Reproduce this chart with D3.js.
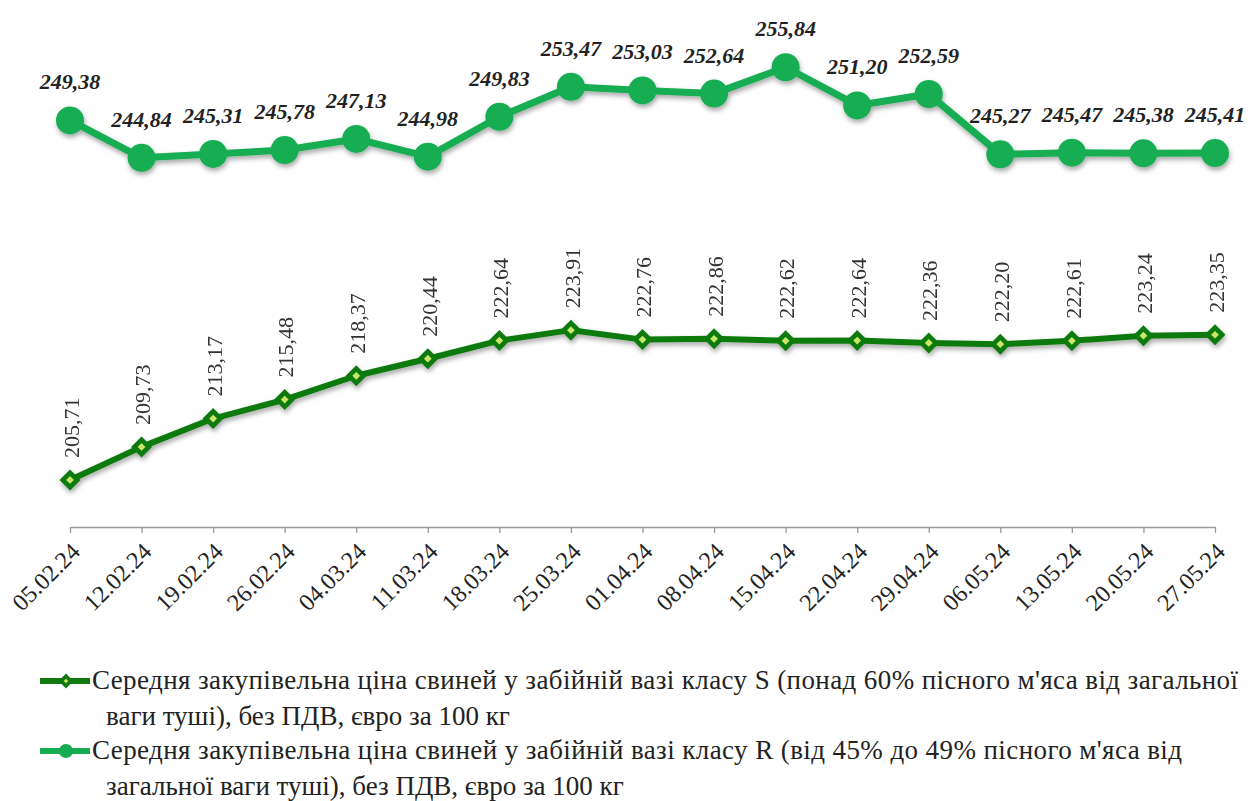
<!DOCTYPE html>
<html><head><meta charset="utf-8">
<script src="https://cdn.jsdelivr.net/npm/d3@7"></script>
</head><body style="margin:0">
<svg id="c" width="1248" height="801"></svg>
<script>
const dates = ["05.02.24","12.02.24","19.02.24","26.02.24","04.03.24","11.03.24","18.03.24","25.03.24","01.04.24","08.04.24","15.04.24","22.04.24","29.04.24","06.05.24","13.05.24","20.05.24","27.05.24"];
const classS = [205.71,209.73,213.17,215.48,218.37,220.44,222.64,223.91,222.76,222.86,222.62,222.64,222.36,222.20,222.61,223.24,223.35];
const classR = [249.38,244.84,245.31,245.78,247.13,244.98,249.83,253.47,253.03,252.64,255.84,251.20,252.59,245.27,245.47,245.38,245.41];
const legendS = ["Середня закупівельна ціна свиней у забійній вазі класу S (понад 60% пісного м'яса від загальної","ваги туші), без ПДВ, євро за 100 кг"];
const legendR = ["Середня закупівельна ціна свиней у забійній вазі класу R (від 45% до 49% пісного м'яса від","загальної ваги туші), без ПДВ, євро за 100 кг"];

const svg = d3.select("#c");
const font = "'Liberation Serif'";
const colS = "#107a10", colSin = "#c9e86a", colR = "#16ad52";

const defs = svg.append("defs");
const f = defs.append("filter").attr("id","sh").attr("x","-20%").attr("y","-20%").attr("width","140%").attr("height","160%");
f.append("feDropShadow").attr("dx",1).attr("dy",3).attr("stdDeviation",2.5).attr("flood-color","#000").attr("flood-opacity",0.35);

const x = d3.scalePoint().domain(dates).range([70,1215]);
const y = d3.scaleLinear().domain([200,260]).range([527,33]);

// x axis
const ax = svg.append("g").attr("transform","translate(0,527)")
  .call(d3.axisBottom(x).tickSize(6).tickSizeOuter(0).tickPadding(8));
ax.attr("font-family",null).attr("font-size",null);
ax.select(".domain").attr("stroke","#999").attr("stroke-width",1.3);
ax.selectAll(".tick line").attr("stroke","#999").attr("stroke-width",1.3);
ax.selectAll(".tick text").style("font-family",font).attr("font-size",24).attr("fill","#222")
  .attr("text-anchor","end").attr("dy","0.35em")
  .attr("transform","translate(5,20) rotate(-45)").attr("x",0).attr("y",0);

const line = d3.line().x((d,i)=>x(dates[i])).y(d=>y(d));

// R series
const gR = svg.append("g").attr("filter","url(#sh)");
gR.append("path").datum(classR).attr("d",line).attr("fill","none").attr("stroke",colR).attr("stroke-width",7).attr("stroke-linejoin","round");
gR.selectAll("circle").data(classR).join("circle").attr("cx",(d,i)=>x(dates[i])).attr("cy",d=>y(d)).attr("r",14).attr("fill",colR);
svg.append("g").selectAll("text").data(classR).join("text")
  .attr("x",(d,i)=>x(dates[i])).attr("y",d=>y(d)-31)
  .attr("text-anchor","middle").style("font-family",font).attr("font-size",22)
  .attr("font-weight","bold").attr("font-style","italic").attr("fill","#222")
  .text(d=>d.toFixed(2).replace(".",","));

// S series
const gS = svg.append("g").attr("filter","url(#sh)");
gS.append("path").datum(classS).attr("d",line).attr("fill","none").attr("stroke",colS).attr("stroke-width",6).attr("stroke-linejoin","round");
gS.selectAll("path.m").data(classS).join("path").attr("class","m")
  .attr("transform",(d,i)=>`translate(${x(dates[i])},${y(d)}) rotate(45)`)
  .attr("d",d3.symbol().type(d3.symbolSquare).size(220)()).attr("fill",colS);
gS.selectAll("path.mi").data(classS).join("path").attr("class","mi")
  .attr("transform",(d,i)=>`translate(${x(dates[i])},${y(d)}) rotate(45)`)
  .attr("d",d3.symbol().type(d3.symbolSquare).size(30)()).attr("fill",colSin);
svg.append("g").selectAll("text").data(classS).join("text")
  .attr("transform",(d,i)=>`translate(${x(dates[i])+1},${y(d)-22}) rotate(-90)`)
  .attr("dy","0.35em").attr("text-anchor","start").style("font-family",font).attr("font-size",22)
  .attr("fill","#333").text(d=>d.toFixed(2).replace(".",","));

// legend
const lg = svg.append("g");
function legendItem(yy, lines, isS, len1){
  const g = lg.append("g");
  g.append("line").attr("x1",40).attr("x2",90).attr("y1",yy).attr("y2",yy)
   .attr("stroke",isS?colS:colR).attr("stroke-width",6);
  if(isS){
    g.append("path").attr("transform",`translate(66,${yy}) rotate(45)`).attr("d",d3.symbol().type(d3.symbolSquare).size(110)()).attr("fill",colS);
    g.append("path").attr("transform",`translate(66,${yy}) rotate(45)`).attr("d",d3.symbol().type(d3.symbolSquare).size(10)()).attr("fill",colSin);
  } else {
    g.append("circle").attr("cx",66).attr("cy",yy).attr("r",7).attr("fill",colR);
  }
  g.append("text").attr("x",92).attr("y",yy+8).style("font-family",font).attr("font-size",27)
   .attr("textLength",len1).attr("fill","#222").text(lines[0]);
  g.append("text").attr("x",106).attr("y",yy+44).style("font-family",font).attr("font-size",27).attr("fill","#222").text(lines[1]);
}
legendItem(681, legendS, true, 1146);
legendItem(751, legendR, false, 1090);
</script>
</body></html>
